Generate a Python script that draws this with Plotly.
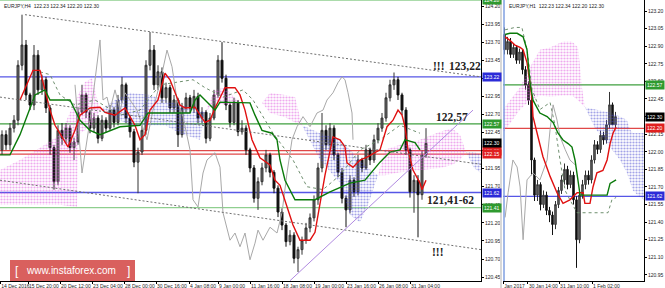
import plotly.graph_objects as go

W, H = 665, 288

# ---------------- Left panel: EURJPY H4 ----------------
h4_open = [122.21, 122.42, 122.28, 122.51, 122.62, 123.38, 123.66, 122.97, 122.83, 123.52,
           123.04, 123.18, 122.79, 122.24, 121.77, 122.48, 122.37, 122.51, 122.24, 122.32,
           122.73, 122.97, 122.73, 122.51, 122.65, 122.37, 122.62, 122.51, 122.76, 122.59,
           122.90, 123.11, 122.65, 122.46, 122.04, 122.18, 122.48, 123.38, 123.59, 123.11,
           123.29, 122.93, 123.07, 122.79, 122.90, 122.42, 122.79, 122.93, 122.79, 122.95,
           122.65, 122.73, 122.37, 122.65, 122.97, 123.45, 123.20, 122.83, 122.59, 122.87,
           122.46, 122.51, 122.21, 121.96, 121.54, 121.77, 121.96, 122.14, 121.90, 121.68,
           121.35, 121.17, 120.94, 121.03, 120.71, 120.83, 120.96, 121.13, 121.27, 121.52,
           121.96, 122.48, 122.28, 122.51, 122.14, 121.90, 121.54, 121.38, 121.79, 121.63,
           122.07, 121.96, 122.21, 122.07, 122.35, 122.51, 122.65, 122.93, 123.11, 123.18,
           122.97, 122.76, 122.21, 121.63, 121.79, 121.59, 122.14]
h4_high = [122.48, 122.48, 122.58, 122.69, 123.45, 124.08, 123.73, 123.00, 123.66, 123.59,
           123.25, 123.22, 122.83, 122.28, 122.55, 122.58, 122.58, 122.55, 122.38, 122.80,
           123.11, 123.00, 122.76, 122.72, 122.69, 122.69, 122.66, 122.83, 122.80, 122.97,
           123.22, 123.14, 122.69, 122.50, 122.24, 122.55, 123.45, 123.84, 123.66, 123.38,
           123.35, 123.14, 123.11, 122.97, 122.93, 122.86, 123.00, 122.97, 123.04, 123.00,
           122.80, 122.76, 122.72, 123.04, 123.52, 123.70, 123.25, 122.86, 122.93, 122.90,
           122.62, 122.55, 122.24, 122.00, 121.83, 122.03, 122.21, 122.17, 121.93, 121.72,
           121.40, 121.20, 121.10, 121.07, 120.87, 121.01, 121.20, 121.33, 121.58, 122.03,
           122.72, 122.55, 122.58, 122.55, 122.17, 121.96, 121.58, 121.86, 121.83, 122.14,
           122.10, 122.28, 122.24, 122.42, 122.58, 122.72, 123.00, 123.18, 123.28, 123.22,
           123.00, 122.80, 122.24, 121.86, 121.86, 122.20, 122.51]
h4_low = [122.14, 122.21, 122.21, 122.45, 122.55, 123.31, 122.90, 122.76, 122.76, 122.97,
          122.97, 122.72, 122.14, 121.66, 121.72, 122.28, 122.30, 122.17, 122.07, 122.28,
          122.69, 122.65, 122.44, 122.45, 122.30, 122.33, 122.45, 122.48, 122.52, 122.55,
          122.86, 122.58, 122.38, 121.97, 121.61, 122.14, 122.42, 123.31, 123.04, 123.04,
          122.86, 122.86, 122.72, 122.72, 122.25, 122.38, 122.72, 122.72, 122.72, 122.58,
          122.58, 122.30, 122.33, 122.62, 122.93, 123.14, 122.76, 122.52, 122.55, 122.40,
          122.42, 122.14, 121.90, 121.48, 121.38, 121.72, 121.90, 121.83, 121.61, 121.28,
          121.10, 120.87, 120.89, 120.64, 120.52, 120.76, 120.91, 121.07, 121.22, 121.45,
          121.90, 122.21, 122.21, 122.07, 121.83, 121.47, 121.14, 121.33, 121.56, 121.58,
          121.90, 121.93, 122.00, 122.03, 122.30, 122.46, 122.60, 122.88, 123.04, 122.90,
          122.69, 122.14, 121.55, 121.34, 121.00, 121.52, 122.10]
h4_close = [122.42, 122.28, 122.51, 122.62, 123.38, 123.66, 122.97, 122.83, 123.52, 123.04,
            123.18, 122.79, 122.24, 121.77, 122.48, 122.37, 122.51, 122.24, 122.32, 122.73,
            122.97, 122.73, 122.51, 122.65, 122.37, 122.62, 122.51, 122.76, 122.59, 122.90,
            123.11, 122.65, 122.46, 122.04, 122.18, 122.48, 123.38, 123.59, 123.11, 123.29,
            122.93, 123.07, 122.79, 122.90, 122.42, 122.79, 122.93, 122.79, 122.95, 122.65,
            122.73, 122.37, 122.65, 122.97, 123.45, 123.20, 122.83, 122.59, 122.87, 122.46,
            122.51, 122.21, 121.96, 121.54, 121.77, 121.96, 122.14, 121.90, 121.68, 121.35,
            121.17, 120.94, 121.03, 120.71, 120.83, 120.96, 121.13, 121.27, 121.52, 121.96,
            122.48, 122.28, 122.51, 122.14, 121.90, 121.54, 121.38, 121.79, 121.63, 122.07,
            121.96, 122.21, 122.07, 122.35, 122.51, 122.65, 122.93, 123.11, 123.18, 122.97,
            122.76, 122.21, 121.63, 121.79, 121.59, 122.14, 122.30]
h4_bar = list(range(len(h4_close)))

h4_tick_pos = [-0.45, 6.5, 14.5, 22.5, 30.5, 38.5, 46.75, 54, 62, 70, 78, 86, 94, 102]
h4_tick_text = ["14 Dec 2016", "15 Dec 20:00", "20 Dec 12:00", "23 Dec 04:00", "28 Dec 00:00",
                "30 Dec 16:00", "4 Jan 08:00", "9 Jan 00:00", "11 Jan 16:00", "18 Jan 08:00",
                "19 Jan 00:00", "23 Jan 16:00", "26 Jan 08:00", "31 Jan 04:00"]
h4_yticks = [120.45, 120.70, 120.95, 121.20, 121.45, 121.70, 121.95, 122.20, 122.45, 122.70,
             122.95, 123.20, 123.45, 123.70, 123.95, 124.20]

h4_tenkan_x = [4.5, 7.75, 9.5, 10.75, 12, 13.25, 15, 16.5, 18.25, 19.5, 22, 24.5, 25.75, 28.25,
               30.75, 33.25, 34.5, 35.75, 37, 39, 40.75, 42, 44.5, 45.75, 48.25, 50.75, 52, 53.25,
               55.75, 58.25, 59.5, 60.75, 62.5, 64.5, 67, 68.25, 69.5, 70.75, 72.75, 74.5, 77,
               78.25, 79.5, 80.75, 82.75, 84.5, 85.75, 86.25, 87.75, 89.5, 91.25, 94.5, 96.25,
               97.75, 99, 100, 100.75, 101.5, 102.75, 104.5, 105, 106]
h4_tenkan_y = [122.90, 123.31, 123.31, 123.04, 122.76, 122.55, 122.39, 122.25, 122.48, 122.69,
               122.79, 122.80, 122.73, 122.69, 122.79, 122.55, 122.35, 122.42, 122.76, 122.90,
               123.27, 123.18, 122.83, 122.79, 122.80, 122.59, 122.62, 122.79, 123.07, 123.07,
               122.97, 122.76, 122.35, 122.10, 122.00, 121.79, 121.72, 121.52, 121.17, 120.96,
               120.96, 121.07, 121.45, 121.86, 122.39, 122.35, 122.25, 122.03, 121.97, 122.07,
               122.11, 122.21, 122.53, 122.62, 122.76, 122.69, 122.53, 122.21, 121.93, 121.75,
               121.66, 121.79]
h4_kijun_x = [-0.5, 2, 4.5, 8.25, 10.75, 12, 17, 18.25, 19.5, 22, 24.5, 29.5, 34.5, 36.5, 47,
              48.25, 49.5, 52, 53.25, 54.5, 62, 63.25, 65, 67.5, 68.75, 69.5, 70.75, 73.25,
              78.25, 82, 87, 90.75, 94.5, 97, 99.5, 100.75, 103.25, 104.5]
h4_kijun_y = [122.14, 122.14, 122.42, 122.97, 123.04, 122.90, 122.90, 122.76, 122.62, 122.48,
              122.42, 122.53, 122.55, 122.72, 122.72, 122.90, 122.97, 122.83, 122.76, 122.87,
              122.86, 122.69, 122.48, 122.44, 122.35, 122.07, 121.79, 121.52, 121.52, 121.63,
              121.75, 121.79, 122.04, 122.18, 122.21, 122.35, 122.31, 122.21]
h4_chikou_x = [18.25, 20, 22, 24.5, 25.25, 26.25, 27, 28.25, 29.5, 30.75, 32, 33.75, 36.25,
               37.75, 39.5, 41.25, 42.5, 43.75, 45.25, 47, 47.75, 49, 50.25, 51.25, 53.25, 54.5,
               55.25, 57, 58.25, 59.5, 60.75, 62, 63.25, 64, 65.25, 67, 68.75, 70, 71.25, 72.5,
               73.75, 75.25, 77, 78.75, 80.25, 81.25, 82.75, 84, 85, 85.75, 86.5, 87.5, 87.75]
h4_chikou_y = [123.11, 121.89, 122.62, 123.73, 122.90, 122.94, 122.76, 123.04, 122.76, 123.00,
               122.90, 122.76, 122.35, 122.76, 123.14, 123.59, 123.36, 122.90, 122.67, 122.21,
               121.52, 121.42, 121.89, 122.07, 122.17, 121.97, 121.34, 120.96, 121.06, 120.87,
               121.06, 120.69, 120.92, 121.10, 120.96, 121.14, 121.06, 121.34, 121.89, 122.35,
               122.53, 122.67, 122.53, 122.72, 122.76, 122.90, 123.00, 123.14, 123.22, 123.18,
               123.00, 122.72, 122.35]
h4_dotted_x = [9.5, 12, 14.5, 18.25, 23.25, 29.5, 34.5, 39.5, 47.75, 50.75, 55.25, 60.25, 62.75,
               67.75, 72.75, 76.25, 80.25, 84.5, 89.5, 94.5, 99.5, 104.5]
h4_dotted_y = [123.29, 123.25, 122.97, 122.83, 122.90, 122.69, 122.76, 123.11, 123.18, 123.07,
               122.94, 123.04, 122.90, 122.44, 122.07, 121.70, 121.66, 121.86, 122.21, 122.35,
               122.55, 122.44]

# cloud pieces (bar position, span A, span B)
h4_pink1_x = [-0.5, 4.5, 9.5, 14.5, 17, 18.75, 19, 20.75, 22.5, 24.5]
h4_pink1_a = [121.93, 122.07, 122.24, 122.42, 122.73, 122.95, 122.97, 123.15, 123.20, 122.76]
h4_pink1_b = [121.45, 121.45, 121.45, 121.45, 121.43, 121.42, 122.42, 122.48, 122.55, 122.76]
h4_blue1_x = [24.5, 28.25, 32, 37, 40.75, 44.5, 49.5, 50.75]
h4_blue1_a = [122.76, 122.90, 123.00, 122.97, 122.90, 122.83, 122.76, 122.73]
h4_blue1_b = [122.76, 122.65, 122.55, 122.55, 122.55, 122.44, 122.35, 122.73]
h4_pink2_x = [50.75, 53.25, 55.75, 59.5]
h4_pink2_a = [122.73, 123.04, 123.07, 122.86]
h4_pink2_b = [122.73, 122.86, 122.83, 122.86]
h4_pink3_x = [65, 67, 70.75, 73.25, 75]
h4_pink3_a = [122.86, 123.00, 122.97, 122.94, 122.55]
h4_pink3_b = [122.86, 122.72, 122.66, 122.59, 122.55]
h4_blue2_x = [75, 79.5, 84.5, 87, 89.5, 91.5, 94]
h4_blue2_a = [122.55, 122.44, 122.35, 122.21, 122.07, 121.96, 121.86]
h4_blue2_b = [122.55, 122.07, 121.75, 121.31, 121.21, 121.45, 121.86]
h4_pink4_x = [94, 95.75, 99.5, 104.5, 109.5, 112.5, 114.5, 116]
h4_pink4_a = [121.86, 122.21, 122.28, 122.35, 122.46, 122.51, 122.42, 122.18]
h4_pink4_b = [121.86, 121.86, 121.90, 121.93, 121.96, 122.00, 122.07, 122.18]
h4_blue3_x = [116, 118, 119.75]
h4_blue3_a = [122.18, 122.18, 122.14]
h4_blue3_b = [122.18, 121.96, 121.89]

# drawn trend lines
h4_upper_x, h4_upper_y = [5.75, 119.75], [124.08, 123.22]
h4_mid_x, h4_mid_y = [-0.5, 119.75], [122.94, 122.01]
h4_lower_x, h4_lower_y = [-0.5, 119.75], [121.79, 120.83]
h4_support_x, h4_support_y = [72, 117.75], [120.40, 122.76]

h4_levels = [124.28, 123.22, 122.57, 122.20, 122.15, 121.62, 121.41]
h4_level_kind = ["green_l", "blue", "green", "red", "red", "blue", "green_l"]

# ---------------- Right panel: EURJPY H1 ----------------
h1_open = [123.00, 122.87, 122.94, 122.83, 122.89, 122.78, 122.85, 122.70, 122.57, 122.44,
           121.93, 121.63, 121.72, 121.55, 121.63, 121.50, 121.46, 121.38, 121.55, 121.67,
           121.76, 121.85, 121.72, 121.80, 121.59, 121.25, 121.63, 121.72, 121.80, 121.76,
           121.93, 122.06, 122.02, 122.14, 122.10, 122.23, 122.40, 122.23]
h1_high = [123.06, 122.98, 122.97, 122.92, 122.91, 122.88, 122.87, 122.73, 122.60, 122.46,
           121.95, 121.76, 121.74, 121.67, 121.66, 121.53, 121.49, 121.58, 121.70, 121.80,
           121.90, 121.88, 121.84, 121.83, 121.62, 121.67, 121.76, 121.84, 121.84, 121.97,
           122.10, 122.09, 122.18, 122.17, 122.27, 122.51, 122.42, 122.34]
h1_low = [122.83, 122.83, 122.80, 122.80, 122.75, 122.75, 122.66, 122.53, 122.40, 121.80,
          121.58, 121.58, 121.50, 121.52, 121.46, 121.40, 121.29, 121.34, 121.52, 121.64,
          121.72, 121.68, 121.69, 121.55, 121.01, 121.22, 121.60, 121.68, 121.72, 121.73,
          121.90, 121.98, 121.99, 122.06, 122.07, 122.20, 122.23, 122.20]
h1_close = [122.87, 122.94, 122.83, 122.89, 122.78, 122.85, 122.70, 122.57, 122.44, 121.93,
            121.63, 121.72, 121.55, 121.63, 121.50, 121.46, 121.38, 121.55, 121.67, 121.76,
            121.85, 121.72, 121.80, 121.59, 121.25, 121.63, 121.72, 121.80, 121.76, 121.93,
            122.06, 122.02, 122.14, 122.10, 122.23, 122.40, 122.23, 122.30]
h1_bar = list(range(len(h1_close)))

h1_tick_pos = [-0.45, 7.8, 18.2, 29.2]
h1_tick_text = ["Jan 2017", "30 Jan 14:00", "31 Jan 10:00", "1 Feb 02:00"]
h1_yticks = [120.95, 121.10, 121.25, 121.40, 121.55, 121.70, 121.85, 122.00, 122.15, 122.30,
             122.45, 122.60, 122.75, 122.90, 123.05, 123.20]

h1_tenkan_x = [0.2, 1.8, 3.5, 5.2, 6.2, 7.5, 8.5, 9.2, 9.5, 10.8, 11.8, 12.8, 15.2, 17.5, 19.5,
               21.8, 24.2, 26.2, 26.8, 28.5, 29.5, 30.8, 32.8, 34.2, 35.2, 36.2, 37.2]
h1_tenkan_y = [122.98, 122.95, 122.91, 122.89, 122.87, 122.76, 122.59, 122.44, 122.30, 122.16,
               122.08, 121.96, 121.79, 121.65, 121.56, 121.59, 121.65, 121.65, 121.56, 121.56,
               121.70, 121.82, 121.84, 121.93, 122.07, 122.16, 122.21]
h1_kijun_x = [0.2, 1.8, 4.2, 6.2, 7.5, 8.5, 9.5, 11.8, 14.2, 16.2, 17.8, 19.5, 21.2, 22.5, 23.5,
              24.5, 25.2, 34.2, 35.2, 37.2]
h1_kijun_y = [123.00, 123.01, 123.01, 122.98, 122.87, 122.59, 122.44, 122.33, 122.30, 122.25,
              122.16, 122.10, 122.07, 122.04, 121.93, 121.76, 121.63, 121.63, 121.73, 121.76]
h1_chikou_x = [0.2, 1.2, 2.8, 4.2, 5.2, 6.2, 7.5, 9.5, 11.8, 14.2, 15.2, 16.2, 17.5, 18.5, 20.2,
               21.8, 23.5]
h1_chikou_y = [121.44, 121.65, 121.93, 121.87, 121.70, 121.25, 121.76, 121.82, 121.76, 121.93,
               122.19, 122.40, 122.27, 122.13, 122.02, 121.93, 121.89]
h1_dotted_x = [0.2, 3.5, 5.8, 7.5, 9.2, 11.8, 15.2, 16.8, 18.5, 20.2, 21.8, 24.2, 34.5, 35.8, 37.2]
h1_dotted_y = [123.04, 123.06, 123.06, 122.87, 122.53, 122.36, 122.42, 122.23, 121.93, 121.67,
               121.59, 121.48, 121.48, 121.59, 121.61]

h1_pink_x = [-0.5, 5.2, 8.5, 11.8, 15.2, 19.5, 22.5, 24.5, 25.2, 25.8, 26.8]
h1_pink_a = [122.36, 122.55, 122.72, 122.87, 122.89, 122.94, 122.94, 122.89, 122.72, 122.55, 122.38]
h1_pink_b = [122.16, 122.36, 122.44, 122.48, 122.47, 122.48, 122.48, 122.44, 122.42, 122.40, 122.38]
h1_blue_x = [26.8, 30.2, 33.5, 35.8, 38.5, 40.8, 41.8, 42.8, 45.2, 46.5]
h1_blue_a = [122.38, 122.36, 122.34, 122.33, 122.30, 122.27, 122.19, 122.16, 122.16, 122.16]
h1_blue_b = [122.38, 122.20, 122.10, 122.02, 121.93, 121.82, 121.74, 121.67, 121.61, 121.59]

h1_levels = [122.57, 122.20, 121.62]
h1_level_kind = ["green", "red", "blue"]

last_price = 122.30
header_h4 = "EURJPY,H4  122.23 122.34 122.20 122.30"
header_h1 = "EURJPY,H1  122.23 122.34 122.20 122.30"

# ---------------- styles ----------------
LVL_COL = {"green_l": "#8fcf8f", "green": "#3f9f3f", "red": "#e04848", "blue": "#5656e6"}
BOX_COL = {"green_l": "#2f9a2f", "green": "#2f9a2f", "red": "#e02020", "blue": "#2c2cd8"}
PINK = "#dd55dd"
BLUE = "#4a4ad0"

fig = go.Figure()


def add_cloud(xs, a, b, color, xa, ya):
    fig.add_trace(go.Scatter(
        x=xs + xs[::-1], y=a + b[::-1], mode="lines", line=dict(width=0),
        fill="toself", fillcolor="rgba(0,0,0,0)",
        fillpattern=dict(shape=".", fgcolor=color, bgcolor="rgba(0,0,0,0)", size=3, solidity=0.42),
        xaxis=xa, yaxis=ya, hoverinfo="skip", showlegend=False))


def add_line(xs, ys, color, width, xa, ya, dash="solid"):
    fig.add_trace(go.Scatter(x=xs, y=ys, mode="lines", line=dict(color=color, width=width, dash=dash),
                             xaxis=xa, yaxis=ya, hoverinfo="skip", showlegend=False))


# left clouds
add_cloud(h4_pink1_x, h4_pink1_a, h4_pink1_b, PINK, "x", "y")
add_cloud(h4_blue1_x, h4_blue1_a, h4_blue1_b, BLUE, "x", "y")
add_cloud(h4_pink2_x, h4_pink2_a, h4_pink2_b, PINK, "x", "y")
add_cloud(h4_pink3_x, h4_pink3_a, h4_pink3_b, PINK, "x", "y")
add_cloud(h4_blue2_x, h4_blue2_a, h4_blue2_b, BLUE, "x", "y")
add_cloud(h4_pink4_x, h4_pink4_a, h4_pink4_b, PINK, "x", "y")
add_cloud(h4_blue3_x, h4_blue3_a, h4_blue3_b, BLUE, "x", "y")
# right clouds
add_cloud(h1_pink_x, h1_pink_a, h1_pink_b, PINK, "x2", "y2")
add_cloud(h1_blue_x, h1_blue_a, h1_blue_b, BLUE, "x2", "y2")

# dotted / chikou lines
add_line(h4_dotted_x, h4_dotted_y, "#6f8f6f", 1, "x", "y", "dot")
add_line(h1_dotted_x, h1_dotted_y, "#6f8f6f", 1, "x2", "y2", "dot")
add_line(h4_chikou_x, h4_chikou_y, "#a8a8a8", 1, "x", "y")
add_line(h1_chikou_x, h1_chikou_y, "#a8a8a8", 1, "x2", "y2")

# candles
candle_style = dict(increasing=dict(line=dict(color="#333333", width=1), fillcolor="#6a6a6a"),
                    decreasing=dict(line=dict(color="#111111", width=1), fillcolor="#111111"),
                    whiskerwidth=0, showlegend=False, hoverinfo="skip")
fig.add_trace(go.Candlestick(x=h4_bar, open=h4_open, high=h4_high, low=h4_low, close=h4_close,
                             xaxis="x", yaxis="y", **candle_style))
fig.add_trace(go.Candlestick(x=h1_bar, open=h1_open, high=h1_high, low=h1_low, close=h1_close,
                             xaxis="x2", yaxis="y2", **candle_style))

# ichimoku lines
add_line(h4_tenkan_x, h4_tenkan_y, "#e01010", 1.4, "x", "y")
add_line(h4_kijun_x, h4_kijun_y, "#0a7a0a", 1.4, "x", "y")
add_line(h1_tenkan_x, h1_tenkan_y, "#e01010", 1.4, "x2", "y2")
add_line(h1_kijun_x, h1_kijun_y, "#0a7a0a", 1.4, "x2", "y2")

# trend lines
add_line(h4_upper_x, h4_upper_y, "#707070", 1, "x", "y", "2px,2px")
add_line(h4_mid_x, h4_mid_y, "#707070", 1, "x", "y", "2px,2px")
add_line(h4_lower_x, h4_lower_y, "#707070", 1, "x", "y", "2px,2px")
add_line(h4_support_x, h4_support_y, "#b08ae0", 1, "x", "y")

shapes = []
for v, k in zip(h4_levels, h4_level_kind):
    shapes.append(dict(type="line", xref="x domain", x0=0, x1=1, yref="y", y0=v, y1=v,
                       line=dict(color=LVL_COL[k], width=1.3), layer="below"))
for v, k in zip(h1_levels, h1_level_kind):
    shapes.append(dict(type="line", xref="x2 domain", x0=0, x1=1, yref="y2", y0=v, y1=v,
                       line=dict(color=LVL_COL[k], width=1.3), layer="below"))
# panel separators
shapes.append(dict(type="line", xref="paper", yref="paper", x0=501 / W, x1=501 / W, y0=0, y1=1,
                   line=dict(color="#d8d8d8", width=2)))
shapes.append(dict(type="line", xref="paper", yref="paper", x0=504 / W, x1=504 / W, y0=7 / H, y1=1,
                   line=dict(color="#7f9fe0", width=1.5)))
# watermark box
shapes.append(dict(type="rect", xref="paper", yref="paper", x0=10 / W, x1=135 / W,
                   y0=1 - 281 / H, y1=1 - 260 / H, fillcolor="#d9605e", line=dict(width=0), layer="above"))

ann = []
box_font = dict(family="Liberation Sans", size=5, color="white")
for v, k in zip(h4_levels, h4_level_kind):
    ann.append(dict(x=482 / W, xref="paper", xanchor="left", y=v, yref="y", yanchor="middle",
                    text=f"{v:.2f}", showarrow=False, bgcolor=BOX_COL[k], font=box_font, borderpad=1))
ann.append(dict(x=482 / W, xref="paper", xanchor="left", y=last_price, yref="y", yanchor="middle",
                text=f"{last_price:.2f}", showarrow=False, bgcolor="#000000", font=box_font, borderpad=1))
for v, k in zip(h1_levels, h1_level_kind):
    ann.append(dict(x=645 / W, xref="paper", xanchor="left", y=v, yref="y2", yanchor="middle",
                    text=f"{v:.2f}", showarrow=False, bgcolor=BOX_COL[k], font=box_font, borderpad=1))
ann.append(dict(x=645 / W, xref="paper", xanchor="left", y=last_price, yref="y2", yanchor="middle",
                text=f"{last_price:.2f}", showarrow=False, bgcolor="#000000", font=box_font, borderpad=1))

hdr_font = dict(family="Liberation Sans", size=5, color="#222")
ann.append(dict(x=2 / W, y=1 - 1 / H, xref="paper", yref="paper", xanchor="left", yanchor="top",
                text=header_h4, showarrow=False, font=hdr_font))
ann.append(dict(x=507 / W, y=1 - 1 / H, xref="paper", yref="paper", xanchor="left", yanchor="top",
                text=header_h1, showarrow=False, font=hdr_font))

big = dict(family="Liberation Serif", size=11.5, color="#222")
for txt, cx, cy in [("!!!", 438.5, 66), ("123,22", 464.5, 66), ("122,57", 452, 117),
                    ("121,41-62", 450.5, 200), ("!!!", 437.5, 252)]:
    ann.append(dict(x=cx / W, y=1 - cy / H, xref="paper", yref="paper", xanchor="center",
                    yanchor="middle", text=f"<b>{txt}</b>", showarrow=False, font=big))

wm = dict(family="Liberation Sans", color="white")
for txt, cx, sz in [("www.instaforex.com", 71, 10), ("[", 17, 12), ("]", 128, 12)]:
    ann.append(dict(x=cx / W, y=1 - 270.5 / H, xref="paper", yref="paper", xanchor="center",
                    yanchor="middle", text=txt, showarrow=False, font=dict(size=sz, **wm)))

axc = dict(showgrid=False, zeroline=False, showline=True, linecolor="#000", linewidth=1,
           ticks="outside", ticklen=2, tickcolor="#000", automargin=False, tickangle=0,
           tickfont=dict(family="Liberation Sans", size=5, color="#222"), fixedrange=True)

fig.update_layout(
    width=W, height=H, margin=dict(l=0, r=0, t=0, b=0, autoexpand=False),
    paper_bgcolor="white", plot_bgcolor="white", showlegend=False,
    xaxis=dict(domain=[0, 481 / W], range=[-0.5, 119.75], anchor="y",
               tickmode="array", tickvals=h4_tick_pos, ticktext=h4_tick_text,
               ticklabelposition="outside right", rangeslider=dict(visible=False), **axc),
    yaxis=dict(domain=[7 / H, 1], range=[120.396, 124.283], side="right", anchor="x",
               tickmode="array", tickvals=h4_yticks, tickformat=".2f", **axc),
    xaxis2=dict(domain=[503 / W, 644 / W], range=[-0.5, 46.5], anchor="y2",
                tickmode="array", tickvals=h1_tick_pos, ticktext=h1_tick_text,
                ticklabelposition="outside right", rangeslider=dict(visible=False), **axc),
    yaxis2=dict(domain=[7 / H, 1], range=[120.898, 123.294], side="right", anchor="x2",
                tickmode="array", tickvals=h1_yticks, tickformat=".2f", **axc),
    shapes=shapes, annotations=ann,
)

fig.write_html("out.html")
